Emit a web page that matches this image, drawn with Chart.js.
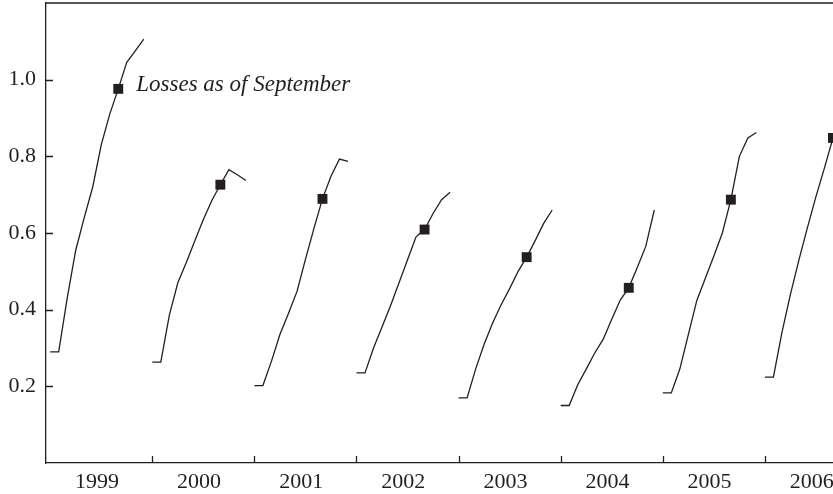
<!DOCTYPE html>
<html>
<head>
<meta charset="utf-8">
<script src="https://cdn.jsdelivr.net/npm/chart.js@4/dist/chart.umd.min.js"></script>
<style>
  html, body { margin: 0; padding: 0; background: #fff; }
  #wrap { width: 833px; height: 494px; }
</style>
</head>
<body>
<div id="wrap"><canvas id="losses"></canvas></div>
<script>
// one line per year, monthly values Jan..Dec (2006 stops at September)
const years = ["1999", "2000", "2001", "2002", "2003", "2004", "2005", "2006"];
const loss1999 = [0.29, 0.29, 0.43, 0.555, 0.64, 0.72, 0.83, 0.91, 0.976, 1.045, 1.075, 1.106];
const loss2000 = [0.263, 0.263, 0.385, 0.47, 0.523, 0.58, 0.635, 0.685, 0.726, 0.765, 0.752, 0.737];
const loss2001 = [0.202, 0.202, 0.265, 0.335, 0.39, 0.447, 0.531, 0.612, 0.689, 0.748, 0.793, 0.787];
const loss2002 = [0.235, 0.235, 0.30, 0.355, 0.41, 0.47, 0.53, 0.59, 0.609, 0.651, 0.687, 0.706];
const loss2003 = [0.17, 0.17, 0.245, 0.31, 0.365, 0.413, 0.455, 0.50, 0.537, 0.58, 0.625, 0.66];
const loss2004 = [0.15, 0.15, 0.204, 0.245, 0.287, 0.323, 0.375, 0.425, 0.457, 0.51, 0.565, 0.66];
const loss2005 = [0.183, 0.183, 0.245, 0.335, 0.424, 0.482, 0.54, 0.60, 0.687, 0.80, 0.848, 0.862];
const loss2006 = [0.224, 0.224, 0.34, 0.44, 0.53, 0.614, 0.695, 0.77, 0.848];
const yTicks = [0.2, 0.4, 0.6, 0.8, 1.0];
const SEPT = 8;
const note = "Losses as of September";

const allLosses = [loss1999, loss2000, loss2001, loss2002, loss2003, loss2004, loss2005, loss2006];

const ink = '#231f20';
const serif = { family: '"Liberation Serif", "Times New Roman", serif', size: 22 };

const datasets = allLosses.map((vals, i) => ({
  label: years[i],
  data: vals.map((v, m) => ({ x: i + m / 12, y: v })),
  borderColor: ink,
  borderWidth: 1.3,
  tension: 0,
  fill: false,
  pointStyle: 'rect',
  pointRadius: (c) => c.dataIndex === SEPT ? 7 : 0,
  pointBackgroundColor: ink,
  pointBorderWidth: 0
}));

// top frame line, inward tick marks, and the note next to the first September marker
const frame = {
  id: 'frame',
  afterDraw(chart) {
    const { ctx, chartArea: a, scales: { x, y } } = chart;
    ctx.save();
    ctx.strokeStyle = ink;
    ctx.lineWidth = 1.3;
    ctx.beginPath();
    ctx.moveTo(a.left, a.top);
    ctx.lineTo(a.right, a.top);
    for (let i = 1; i < years.length; i++) {
      const px = Math.round(x.getPixelForValue(i)) + 0.5;
      ctx.moveTo(px, a.bottom);
      ctx.lineTo(px, a.bottom - 7);
    }
    yTicks.forEach(v => {
      const py = Math.round(y.getPixelForValue(v)) + 0.5;
      ctx.moveTo(a.left, py);
      ctx.lineTo(a.left + 7, py);
    });
    ctx.stroke();

    const p = chart.getDatasetMeta(0).data[SEPT];
    ctx.font = 'italic 23px "Liberation Serif", serif';
    ctx.fillStyle = ink;
    ctx.textBaseline = 'alphabetic';
    ctx.fillText(note, p.x + 18, p.y + 2);
    ctx.restore();
  }
};

new Chart(document.getElementById('losses'), {
  type: 'line',
  data: { datasets },
  options: {
    responsive: true,
    maintainAspectRatio: false,
    animation: false,
    events: [],
    layout: { autoPadding: false, padding: { top: 3, right: 0, left: 0, bottom: 0 } },
    plugins: { legend: { display: false }, tooltip: { enabled: false } },
    scales: {
      x: {
        type: 'linear',
        min: -0.041,
        max: 7.667,
        border: { display: true, color: ink, width: 1.3 },
        grid: { drawOnChartArea: false, drawTicks: false },
        afterBuildTicks: s => { s.ticks = years.map((_, i) => ({ value: i + 5.5 / 12 })); },
        ticks: {
          callback: (v, idx) => years[idx],
          font: serif, color: ink, padding: 6,
          maxRotation: 0, autoSkip: false
        },
        afterFit: s => { s.height = 31; s.paddingLeft = 0; s.paddingRight = 0; }
      },
      y: {
        min: 0,
        max: 1.2,
        border: { display: true, color: ink, width: 1.3 },
        grid: { drawOnChartArea: false, drawTicks: false },
        afterBuildTicks: s => { s.ticks = yTicks.map(v => ({ value: v })); },
        ticks: { callback: v => v.toFixed(1), font: serif, color: ink, padding: 10 },
        afterFit: s => { s.width = 46; s.paddingTop = 0; s.paddingBottom = 0; }
      }
    }
  },
  plugins: [frame]
});
</script>
</body>
</html>
